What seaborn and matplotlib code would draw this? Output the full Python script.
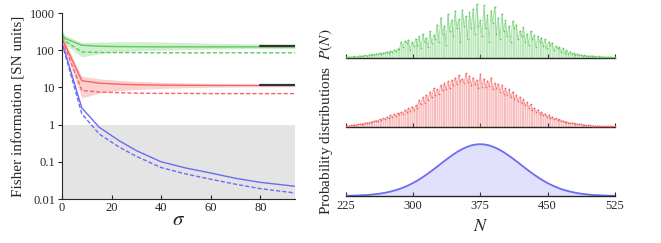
import numpy as np
import pandas as pd
import matplotlib
matplotlib.use("Agg")
import matplotlib.pyplot as plt
import seaborn as sns

# ---------------------------------------------------------
# data
# ---------------------------------------------------------
sigma = [0, 1, 8, 15, 23, 30, 40, 50, 60, 70, 80, 94]

green_solid = [290, 210, 136, 128, 125, 124, 123, 123, 123, 123, 123, 123]
green_dash = [230, 180, 90, 87, 86, 86, 85, 85, 85, 85, 85, 85]
green_lo = [200, 150, 66, 80, 90, 96, 100, 104, 107, 109, 110, 111]
green_hi = [360, 260, 158, 165, 168, 168, 166, 160, 155, 150, 147, 145]

red_solid = [200, 150, 15.1, 13.0, 12.2, 11.8, 11.5, 11.4, 11.3, 11.3, 11.3, 11.3]
red_dash = [190, 130, 8.3, 7.5, 7.2, 7.0, 6.9, 6.9, 6.8, 6.8, 6.8, 6.8]
red_lo = [170, 110, 5.2, 7.0, 8.2, 8.8, 9.4, 9.8, 10.1, 10.3, 10.4, 10.5]
red_hi = [240, 180, 20, 17, 15.5, 14.5, 13.8, 13.2, 12.8, 12.4, 12.2, 12.0]

blue_solid = [150, 100, 2.8, 0.85, 0.37, 0.2, 0.1, 0.068, 0.05, 0.036, 0.028, 0.022]
blue_dash = [150, 90, 1.95, 0.56, 0.25, 0.14, 0.07, 0.047, 0.034, 0.025, 0.019, 0.0145]

# reference levels (black segments)
ref_sigma = [80, 94]
ref_green = [128, 128]
ref_red = [11.3, 11.3]

# probability distributions, N = 225, 227, ..., 525
N_noisy = list(range(225, 526, 2))
p_green = [
    0.01, 0.01, 0.02, 0.02, 0.02, 0.03, 0.02, 0.03, 0.04, 0.03,
    0.04, 0.05, 0.04, 0.06, 0.05, 0.07, 0.06, 0.08, 0.07, 0.09,
    0.08, 0.10, 0.09, 0.12, 0.10, 0.13, 0.11, 0.15, 0.13, 0.17,
    0.16, 0.30, 0.20, 0.32, 0.28, 0.34, 0.15, 0.30, 0.22, 0.36,
    0.25, 0.40, 0.18, 0.45, 0.30, 0.38, 0.20, 0.50, 0.28, 0.42,
    0.35, 0.62, 0.30, 0.75, 0.45, 0.60, 0.25, 0.82, 0.50, 0.70,
    0.40, 0.88, 0.55, 0.72, 0.30, 0.90, 0.60, 0.78, 0.35, 0.85,
    0.55, 0.92, 0.45, 1.00, 0.60, 0.70, 0.40, 0.98, 0.55, 0.80,
    0.30, 0.88, 0.65, 0.95, 0.45, 0.75, 0.35, 0.82, 0.50, 0.70,
    0.40, 0.60, 0.30, 0.68, 0.55, 0.62, 0.35, 0.50, 0.40, 0.58,
    0.30, 0.45, 0.25, 0.50, 0.35, 0.42, 0.20, 0.40, 0.30, 0.38,
    0.22, 0.35, 0.18, 0.30, 0.25, 0.28, 0.15, 0.22, 0.18, 0.20,
    0.12, 0.18, 0.10, 0.15, 0.08, 0.12, 0.07, 0.09, 0.06, 0.08,
    0.05, 0.06, 0.04, 0.05, 0.04, 0.04, 0.03, 0.04, 0.03, 0.03,
    0.02, 0.03, 0.02, 0.02, 0.02, 0.02, 0.01, 0.02, 0.01, 0.01,
    0.01,
]
p_red = [
    0.01, 0.02, 0.02, 0.03, 0.03, 0.04, 0.04, 0.05, 0.05, 0.06,
    0.06, 0.07, 0.08, 0.08, 0.10, 0.09, 0.11, 0.12, 0.11, 0.14,
    0.13, 0.16, 0.15, 0.18, 0.17, 0.22, 0.19, 0.24, 0.20, 0.26,
    0.24, 0.28, 0.25, 0.32, 0.28, 0.35, 0.30, 0.38, 0.32, 0.40,
    0.36, 0.50, 0.42, 0.55, 0.45, 0.60, 0.50, 0.66, 0.55, 0.72,
    0.60, 0.70, 0.62, 0.78, 0.68, 0.82, 0.70, 0.85, 0.72, 0.88,
    0.78, 0.92, 0.80, 0.96, 0.85, 0.90, 0.82, 1.00, 0.84, 0.95,
    0.78, 0.92, 0.80, 0.88, 0.72, 0.98, 0.75, 0.90, 0.74, 0.86,
    0.76, 0.92, 0.70, 0.82, 0.72, 0.80, 0.66, 0.78, 0.62, 0.72,
    0.60, 0.70, 0.55, 0.66, 0.52, 0.60, 0.48, 0.56, 0.44, 0.52,
    0.40, 0.46, 0.36, 0.42, 0.32, 0.36, 0.28, 0.32, 0.25, 0.28,
    0.22, 0.25, 0.19, 0.22, 0.17, 0.19, 0.15, 0.16, 0.13, 0.14,
    0.11, 0.12, 0.09, 0.10, 0.08, 0.08, 0.07, 0.07, 0.06, 0.06,
    0.05, 0.05, 0.04, 0.04, 0.03, 0.03, 0.03, 0.02, 0.02, 0.02,
    0.02, 0.02, 0.01, 0.01, 0.01, 0.01, 0.01, 0.01, 0.01, 0.01,
    0.01,
]
N_smooth = list(range(225, 526, 5))
p_blue = [
    0.004, 0.006, 0.008, 0.011, 0.015, 0.021, 0.029, 0.038, 0.050, 0.066,
    0.085, 0.108, 0.135, 0.168, 0.206, 0.249, 0.298, 0.352, 0.411, 0.474,
    0.539, 0.607, 0.674, 0.739, 0.801, 0.857, 0.906, 0.946, 0.976, 0.994,
    1.000,
    0.994, 0.976, 0.946, 0.906, 0.857, 0.801, 0.739, 0.674, 0.607, 0.539,
    0.474, 0.411, 0.352, 0.298, 0.249, 0.206, 0.168, 0.135, 0.108, 0.085,
    0.066, 0.050, 0.038, 0.029, 0.021, 0.015, 0.011, 0.008, 0.006, 0.004,
]

GREEN = "#5fc95f"
RED = "#f46565"
BLUE = "#6b6bf5"

# ---------------------------------------------------------
# style
# ---------------------------------------------------------
sns.set_style("ticks")
plt.rcParams["font.family"] = ["Liberation Serif", "DejaVu Serif"]
plt.rcParams["mathtext.fontset"] = "stix"
plt.rcParams["xtick.direction"] = "in"
plt.rcParams["ytick.direction"] = "out"

fig = plt.figure(figsize=(6.61, 2.43), dpi=100)

# ---------------------------------------------------------
# left panel: Fisher information vs sigma
# ---------------------------------------------------------
ax = fig.add_axes([62 / 661, 44 / 243, 233 / 661, 186 / 243])
ax.axhspan(0.01, 1, color="#e4e4e4", lw=0, zorder=0)

for lo, hi, c in [(green_lo, green_hi, GREEN), (red_lo, red_hi, RED)]:
    ax.fill_between(sigma, lo, hi, color=c, alpha=0.3, lw=0)

for ys, c in [(green_solid, GREEN), (red_solid, RED), (blue_solid, BLUE)]:
    sns.lineplot(x=sigma, y=ys, color=c, lw=1.0, ax=ax)
for ys, c in [(green_dash, GREEN), (red_dash, RED), (blue_dash, BLUE)]:
    sns.lineplot(x=sigma, y=ys, color=c, lw=1.0, ls=(0, (3, 1.5)), ax=ax)

ax.plot(ref_sigma, ref_green, color="#333333", lw=1.6)
ax.plot(ref_sigma, ref_red, color="#333333", lw=1.6)

ax.set_yscale("log")
ax.set_ylim(0.01, 1000)
ax.set_xlim(0, 94)
ax.set_yticks([0.01, 0.1, 1, 10, 100, 1000])
ax.set_yticklabels(["0.01", "0.1", "1", "10", "100", "1000"])
ax.minorticks_off()
ax.set_xticks([0, 20, 40, 60, 80])
ax.tick_params(labelsize=9, length=3, width=0.8, pad=2)
ax.set_xlabel(r"$\sigma$", fontsize=15, labelpad=-2)
ax.set_ylabel("Fisher information [SN units]", fontsize=11, labelpad=3)
sns.despine(ax=ax)

# ---------------------------------------------------------
# right panels: probability distributions
# ---------------------------------------------------------
panels = [
    (58, N_noisy, p_green, GREEN, True),
    (127, N_noisy, p_red, RED, True),
    (196, N_smooth, p_blue, BLUE, False),
]
axes_r = []
for base, xs, ps, c, noisy in panels:
    a = fig.add_axes([345.5 / 661, (243 - base) / 243, 269.5 / 661, 57 / 243])
    if noisy:
        a.vlines(xs, 0, ps, color=c, alpha=0.3, lw=0.9)
        a.fill_between(xs, 0, ps, color=c, alpha=0.15, lw=0)
        sns.lineplot(x=xs, y=ps, color=c, lw=0.6, alpha=0.6, ax=a)
        a.scatter(xs, ps, color=c, s=1.5, lw=0, zorder=3)
    else:
        a.fill_between(xs, 0, ps, color=c, alpha=0.2, lw=0)
        sns.lineplot(x=xs, y=ps, color=c, lw=1.3, ax=a)
    a.set_xlim(225, 525)
    a.set_ylim(0, 1.06 if noisy else 1.1)
    a.set_yticks([])
    a.set_xticks([225, 300, 375, 450, 525])
    a.tick_params(axis="x", direction="in", labelsize=9, length=3, width=0.8, pad=3)
    for s in ["left", "right", "top"]:
        a.spines[s].set_visible(False)
    a.spines["bottom"].set_linewidth(1.0)
    if noisy:
        a.set_xticklabels([])
    axes_r.append(a)

axes_r[-1].set_xlabel(r"$N$", fontsize=13, labelpad=4)
fig.text(0.493, 0.50, r"Probability distributions  $P(N)$", rotation=90,
         ha="center", va="center", fontsize=11)

fig.savefig("out.png", dpi=100)
